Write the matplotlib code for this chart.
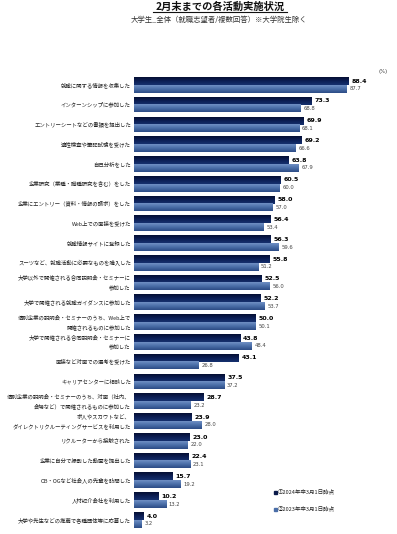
import matplotlib
matplotlib.use("Agg")
import matplotlib.pyplot as plt
import numpy as np
from matplotlib.colors import LinearSegmentedColormap
from matplotlib.lines import Line2D

plt.rcParams['font.family'] = ['Noto Sans CJK JP', 'DejaVu Sans']

categories = [
    "就職に関する情報を収集した",
    "インターンシップに参加した",
    "エントリーシートなどの書類を提出した",
    "適性検査や筆記試験を受けた",
    "自己分析をした",
    "企業研究（業種・職種研究を含む）をした",
    "企業にエントリー（資料・情報の請求）をした",
    "Web上での面接を受けた",
    "就職情報サイトに登録した",
    "スーツなど、就職活動に必要なものを購入した",
    "大学以外で開催される合同説明会・セミナーに\n参加した",
    "大学で開催される就職ガイダンスに参加した",
    "個別企業の説明会・セミナーのうち、Web上で\n開催されるものに参加した",
    "大学で開催される合同説明会・セミナーに\n参加した",
    "面接など対面での選考を受けた",
    "キャリアセンターに相談した",
    "個別企業の説明会・セミナーのうち、対面（社内、\n会場など）で開催されるものに参加した",
    "求人やスカウトなど、\nダイレクトリクルーティングサービスを利用した",
    "リクルーターから接触された",
    "企業に自分で撮影した動画を提出した",
    "OB・OGなど社会人の先輩を訪問した",
    "人材紹介会社を利用した",
    "大学や先生などの推薦で各種団体等に応募した",
]
values_2024 = [88.4, 73.3, 69.9, 69.2, 63.8, 60.5, 58.0, 56.4, 56.3, 55.8, 52.5, 52.2,
               50.0, 43.8, 43.1, 37.5, 28.7, 23.9, 23.0, 22.4, 15.7, 10.2, 4.0]
values_2023 = [87.7, 68.8, 68.1, 66.6, 67.9, 60.0, 57.0, 53.4, 59.6, 51.2, 56.0, 53.7,
               50.1, 48.4, 26.8, 37.2, 23.2, 28.0, 22.0, 23.1, 19.2, 13.2, 3.2]
series_names = ["①2024年卒3月1日時点", "②2023年卒3月1日時点"]

W, H = 397, 534
fig = plt.figure(figsize=(W / 100, H / 100), dpi=100)
fig.patch.set_facecolor("white")

x0, x1 = 134, 376.5
y_top, y_bot = 75, 530
ax = fig.add_axes([x0 / W, 1 - y_bot / H, (x1 - x0) / W, (y_bot - y_top) / H])
ax.set_facecolor("none")

n = len(categories)
pitch = 19.77
ylim_top = -(85 - y_top) / pitch
ylim_bot = (y_bot - 85) / pitch
bh = 0.39

cmap24 = LinearSegmentedColormap.from_list("c24", ["#050f33", "#0c1f55", "#16306e"])
cmap23 = LinearSegmentedColormap.from_list("c23", ["#6f8fc4", "#4a6ea8", "#2c4c86"])
grad = np.linspace(0, 1, 32).reshape(-1, 1)

ys = np.arange(n)
for i in range(n):
    v1, v2 = values_2024[i], values_2023[i]
    ax.imshow(grad, cmap=cmap24, extent=[0, v1, ys[i], ys[i] - bh], aspect="auto",
              origin="upper", zorder=2, interpolation="bilinear")
    ax.imshow(grad, cmap=cmap23, extent=[0, v2, ys[i] + bh, ys[i]], aspect="auto",
              origin="upper", zorder=2, interpolation="bilinear")
    ax.text(v1 + 1.2, ys[i] - bh / 2, f"{v1:.1f}", fontsize=4.5, fontweight="bold",
            color="black", va="center", ha="left", family="DejaVu Sans")
    ax.text(v2 + 1.2, ys[i] + bh / 2, f"{v2:.1f}", fontsize=3.8,
            color="#444444", va="center", ha="left", family="DejaVu Sans")
    ax.text(-1.3, ys[i], categories[i], fontsize=3.9, color="#222222",
            ha="right", va="center", linespacing=1.9)

ax.set_xlim(0, 100)
ax.set_ylim(ylim_bot, ylim_top)
ax.axis("off")

fig.text(220 / W, 1 - 6.5 / H, "2月末までの各活動実施状況", fontsize=7.4, fontweight="bold",
         ha="center", va="center", color="#111111")
fig.add_artist(Line2D([153 / W, 287 / W], [1 - 11.5 / H, 1 - 11.5 / H], color="#111111", lw=0.8))
fig.text(219 / W, 1 - 20 / H, "大学生_全体（就職志望者/複数回答）※大学院生除く", fontsize=5.3,
         ha="center", va="center", color="#333333")
fig.text(383 / W, 1 - 72 / H, "(%)", fontsize=3.8, ha="center", va="center",
         color="#333333", family="DejaVu Sans")

leg_colors = ["#0a1a4a", "#4a6ea8"]
for k, (name, col) in enumerate(zip(series_names, leg_colors)):
    yy = 1 - (492 + 17 * k) / H
    fig.patches.append(plt.Rectangle((273.5 / W, yy - 1.5 / H), 3 / W, 3 / H,
                                     transform=fig.transFigure, color=col, figure=fig))
    fig.text(278 / W, yy, name, fontsize=4.0, ha="left", va="center", color="#222222")

fig.savefig("out.png", dpi=100, facecolor="white")
